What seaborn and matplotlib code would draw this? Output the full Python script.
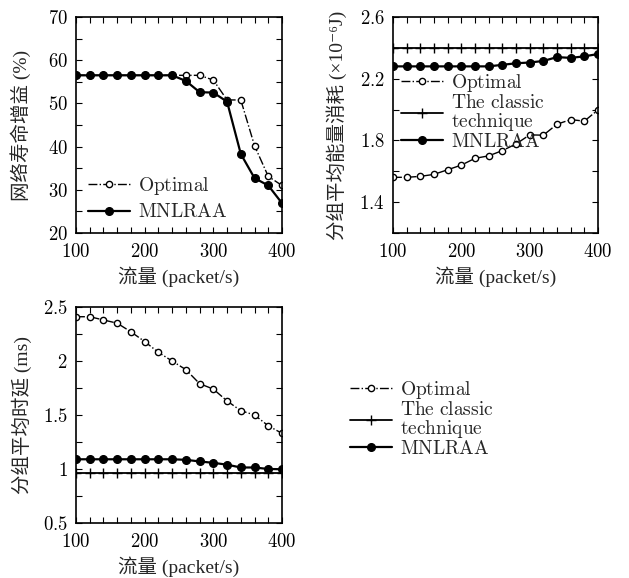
import matplotlib.pyplot as plt
import matplotlib as mpl
from matplotlib.ticker import MultipleLocator, FixedLocator, FuncFormatter
import numpy as np
import seaborn as sns

# traffic load (packet/s)
load = [100, 120, 140, 160, 180, 200, 220, 240, 260, 280, 300, 320, 340, 360, 380, 400]

# network lifetime gain (%)
life_optimal = [56.5, 56.5, 56.5, 56.5, 56.5, 56.5, 56.5, 56.5, 56.5, 56.5, 55.4, 50.8, 50.8, 40.2, 33.1, 31.0]
life_mnlraa = [56.5, 56.5, 56.5, 56.5, 56.5, 56.5, 56.5, 56.5, 55.2, 52.6, 52.5, 50.4, 38.3, 32.7, 31.0, 26.9]

# average energy per packet (x1e-6 J)
energy_optimal = [1.561, 1.561, 1.567, 1.58, 1.61, 1.64, 1.684, 1.70, 1.734, 1.777, 1.836, 1.834, 1.905, 1.935, 1.925, 1.998]
energy_classic = [2.4] * 16
energy_mnlraa = [2.28, 2.28, 2.28, 2.28, 2.28, 2.28, 2.28, 2.28, 2.29, 2.30, 2.305, 2.315, 2.34, 2.335, 2.345, 2.36]

# average delay per packet (ms)
delay_optimal = [2.41, 2.41, 2.38, 2.35, 2.27, 2.18, 2.08, 2.0, 1.92, 1.79, 1.74, 1.63, 1.54, 1.50, 1.40, 1.33]
delay_classic = [0.96] * 16
delay_mnlraa = [1.09, 1.09, 1.09, 1.09, 1.09, 1.09, 1.09, 1.09, 1.085, 1.07, 1.057, 1.04, 1.014, 1.014, 1.0, 0.998]

names = [r"$\mathrm{Optimal}$", "$\\mathrm{The\\ classic}$\n$\\mathrm{technique}$", r"$\mathrm{MNLRAA}$"]

sns.set_theme(style="ticks")
plt.rcParams["font.family"] = ["Liberation Serif", "Noto Sans CJK SC", "DejaVu Serif"]
plt.rcParams["mathtext.fontset"] = "cm"
plt.rcParams["xtick.direction"] = "in"
plt.rcParams["ytick.direction"] = "in"
plt.rcParams["xtick.top"] = True
plt.rcParams["ytick.right"] = True
plt.rcParams["axes.edgecolor"] = "black"
plt.rcParams["axes.linewidth"] = 1.2

FS = 14
TS = 13.5
W, H = 629, 578
fig = plt.figure(figsize=(W / 100, H / 100), dpi=100)


def box(l, t, r, b):
    return [l / W, 1 - b / H, (r - l) / W, (b - t) / H]


ax1 = fig.add_axes(box(76, 17, 282, 233))
ax2 = fig.add_axes(box(393, 17, 598, 233))
ax3 = fig.add_axes(box(76, 307, 282, 523))

opt_kw = dict(color="black", linestyle="-.", linewidth=1.0, marker="o", markersize=4.5,
              markerfacecolor="white", markeredgecolor="black", markeredgewidth=1.0)
cls_kw = dict(color="black", linestyle="-", linewidth=1.3, marker="+", markersize=7,
              markeredgecolor="black", markeredgewidth=1.0)
mn_kw = dict(color="black", linestyle="-", linewidth=1.6, marker="o", markersize=5.5,
             markerfacecolor="black", markeredgecolor="black", markeredgewidth=1.0)

sns.lineplot(x=load, y=life_optimal, ax=ax1, label=names[0], **opt_kw)
sns.lineplot(x=load, y=life_mnlraa, ax=ax1, label=names[2], **mn_kw)

sns.lineplot(x=load, y=energy_optimal, ax=ax2, label=names[0], **opt_kw)
sns.lineplot(x=load, y=energy_classic, ax=ax2, label=names[1], **cls_kw)
sns.lineplot(x=load, y=energy_mnlraa, ax=ax2, label=names[2], **mn_kw)

sns.lineplot(x=load, y=delay_optimal, ax=ax3, label=names[0], **opt_kw)
sns.lineplot(x=load, y=delay_classic, ax=ax3, label=names[1], **cls_kw)
sns.lineplot(x=load, y=delay_mnlraa, ax=ax3, label=names[2], **mn_kw)

math_fmt = FuncFormatter(lambda v, p: f"${v:g}$")

for ax in (ax1, ax2, ax3):
    ax.set_xlim(100, 400)
    ax.xaxis.set_major_locator(MultipleLocator(100))
    ax.xaxis.set_minor_locator(MultipleLocator(20))
    ax.xaxis.set_major_formatter(math_fmt)
    ax.yaxis.set_major_formatter(math_fmt)
    ax.tick_params(which="both", labelsize=TS, colors="black", length=4, width=0.8)
    ax.tick_params(axis="x", pad=7)
    ax.tick_params(axis="y", pad=6)
    ax.set_xlabel("流量 (packet/s)", fontsize=FS, labelpad=4)

ax1.set_ylim(20, 70)
ax1.yaxis.set_major_locator(MultipleLocator(10))
ax1.yaxis.set_minor_locator(MultipleLocator(5))
ax1.set_ylabel("网络寿命增益 (%)", fontsize=FS, labelpad=12)

ax2.set_ylim(1.2, 2.6)
ax2.yaxis.set_major_locator(FixedLocator([1.4, 1.8, 2.2, 2.6]))
ax2.yaxis.set_minor_locator(FixedLocator([1.2, 1.6, 2.0, 2.4]))
ax2.set_ylabel("分组平均能量消耗 (×10⁻⁶J)", fontsize=FS, labelpad=9)

ax3.set_ylim(0.5, 2.5)
ax3.yaxis.set_major_locator(MultipleLocator(0.5))
ax3.yaxis.set_minor_locator(MultipleLocator(0.25))
ax3.set_ylabel("分组平均时延 (ms)", fontsize=FS, labelpad=8)

leg_kw = dict(frameon=False, fontsize=FS, handlelength=2.2, handletextpad=0.4,
              borderaxespad=0.2)
ax1.legend(loc="lower left", bbox_to_anchor=(0.0, 0.0), labelspacing=0.35, **leg_kw)
leg2 = ax2.legend(loc="upper left", bbox_to_anchor=(-0.02, 0.8), labelspacing=0.0, **leg_kw)

handles, labels = ax3.get_legend_handles_labels()
ax3.get_legend().remove()
leg3 = fig.legend(handles, labels, loc="upper left", bbox_to_anchor=(338 / W, 1 - 367 / H),
                  labelspacing=0.0, **leg_kw)
for leg in (leg2, leg3):
    for t in leg.get_texts():
        t.set_linespacing(0.95)

fig.savefig("out.png", dpi=100)
